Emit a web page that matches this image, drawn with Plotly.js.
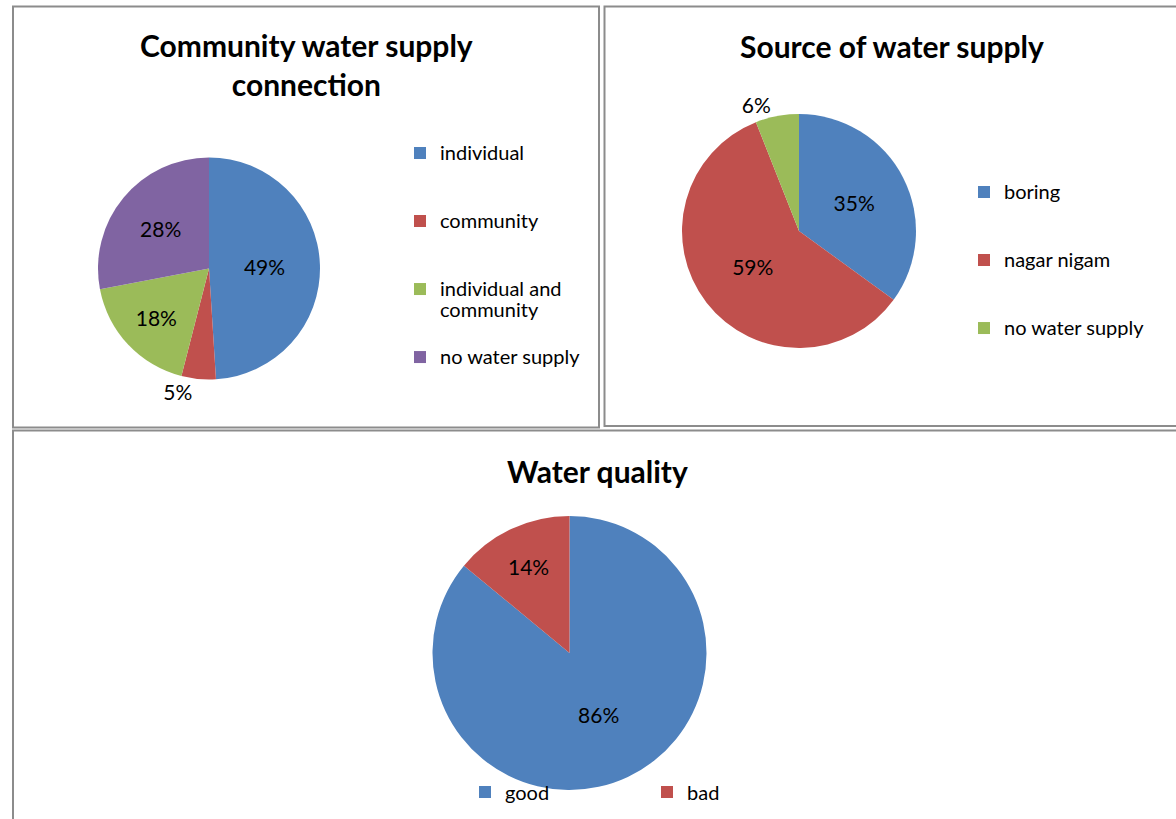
<!DOCTYPE html>
<html>
<head>
<meta charset="utf-8">
<script src="https://cdn.plot.ly/plotly-3.0.1.min.js"></script>
<style>
  html, body { margin: 0; padding: 0; background: #ffffff; }
  #chart { width: 1176px; height: 819px; }
</style>
</head>
<body>
<div id="chart"></div>
<script>
// Community water supply connection
const connectionLabels = ['individual', 'community', 'individual and<br>community', 'no water supply'];
const connectionShares = [49, 5, 18, 28];

// Source of water supply
const sourceLabels = ['boring', 'nagar nigam', 'no water supply'];
const sourceShares = [35, 59, 6];

// Water quality
const qualityLabels = ['good', 'bad'];
const qualityShares = [86, 14];

const panelTitles = ['Community water supply<br>connection', 'Source of water supply', 'Water quality'];

const officeColors = ['#4F81BD', '#C0504D', '#9BBB59', '#8064A2'];
const FONT = 'Lato, "Open Sans", sans-serif';

const W = 1176, H = 819;
const px = v => v / W;
const py = v => 1 - v / H;

// pie domain for a disc centred at (cx, cy) with radius r, in page pixels
function disc(cx, cy, r) {
  return { x: [px(cx - r), px(cx + r)], y: [py(cy + r), py(cy - r)] };
}

// vertical legend entries: a blank line above (and below single-line labels)
// keeps the swatches evenly spread down the side of each pie.
// Each pie gets its own blank character so that equal names in two pies
// keep separate legend entries.
function legendEntry(pad) {
  return function (label) {
    const lines = label.split('<br>').map(l => '<span style="font-size:20px">' + l + '</span>');
    const padded = lines.length === 1 ? [pad, lines[0], pad] : [pad].concat(lines);
    return padded.join('<br>');
  };
}

const common = {
  type: 'pie',
  sort: false,
  direction: 'clockwise',
  rotation: 0,
  textinfo: 'percent',
  insidetextorientation: 'horizontal',
  textfont: { family: FONT, size: 21, color: '#000000' },
  insidetextfont: { family: FONT, size: 21, color: '#000000' },
  outsidetextfont: { family: FONT, size: 21, color: '#000000' },
  marker: { colors: officeColors, line: { width: 0 } },
  hoverinfo: 'skip'
};

const data = [
  Object.assign({}, common, {
    labels: connectionLabels.map(legendEntry('\u00a0')),
    values: connectionShares,
    domain: disc(209, 268.5, 111),
    textposition: ['inside', 'outside', 'inside', 'inside'],
    legend: 'legend'
  }),
  Object.assign({}, common, {
    labels: sourceLabels.map(legendEntry('\u2007')),
    values: sourceShares,
    domain: disc(799, 231, 117),
    textposition: ['inside', 'inside', 'outside'],
    legend: 'legend2'
  }),
  Object.assign({}, common, {
    labels: qualityLabels,
    values: qualityShares,
    domain: disc(569.5, 653, 137),
    textposition: ['inside', 'inside'],
    legend: 'legend3'
  })
];

const frameLine = { color: '#8c8c8c', width: 2 };
function frame(x0, y0, x1, y1) {
  return { type: 'rect', xref: 'paper', yref: 'paper', x0: px(x0), x1: px(x1), y0: py(y1), y1: py(y0), line: frameLine, fillcolor: 'rgba(0,0,0,0)', layer: 'below' };
}

function heading(text, cx, cy) {
  return {
    text: text, xref: 'paper', yref: 'paper', x: px(cx), y: py(cy),
    xanchor: 'center', yanchor: 'middle', showarrow: false,
    font: { family: FONT, size: 30, color: '#000000', weight: 'bold' }
  };
}

const vLegendFont = { family: FONT, size: 16.67, color: '#000000' };

const layout = {
  width: W,
  height: H,
  margin: { l: 0, r: 0, t: 0, b: 0, pad: 0 },
  paper_bgcolor: '#ffffff',
  plot_bgcolor: '#ffffff',
  font: { family: FONT, color: '#000000' },
  showlegend: true,
  legend: { x: px(400), y: py(114), xanchor: 'left', yanchor: 'top', orientation: 'v', font: vLegendFont, bgcolor: 'rgba(0,0,0,0)', itemclick: false },
  legend2: { x: px(964), y: py(153), xanchor: 'left', yanchor: 'top', orientation: 'v', font: vLegendFont, bgcolor: 'rgba(0,0,0,0)', itemclick: false },
  legend3: { x: px(465), y: py(772.5), xanchor: 'left', yanchor: 'top', orientation: 'h', entrywidth: 137, font: { family: FONT, size: 20, color: '#000000' }, bgcolor: 'rgba(0,0,0,0)', itemclick: false },
  shapes: [
    frame(13, 6.5, 599, 427.5),
    frame(604.5, 6.5, 1190, 426),
    frame(13, 430.5, 1190, 840)
  ],
  annotations: [
    heading(panelTitles[0], 306, 65),
    heading(panelTitles[1], 891.5, 46),
    heading(panelTitles[2], 597, 471)
  ]
};

Plotly.newPlot('chart', data, layout, { displayModeBar: false, staticPlot: true });
</script>
</body>
</html>
